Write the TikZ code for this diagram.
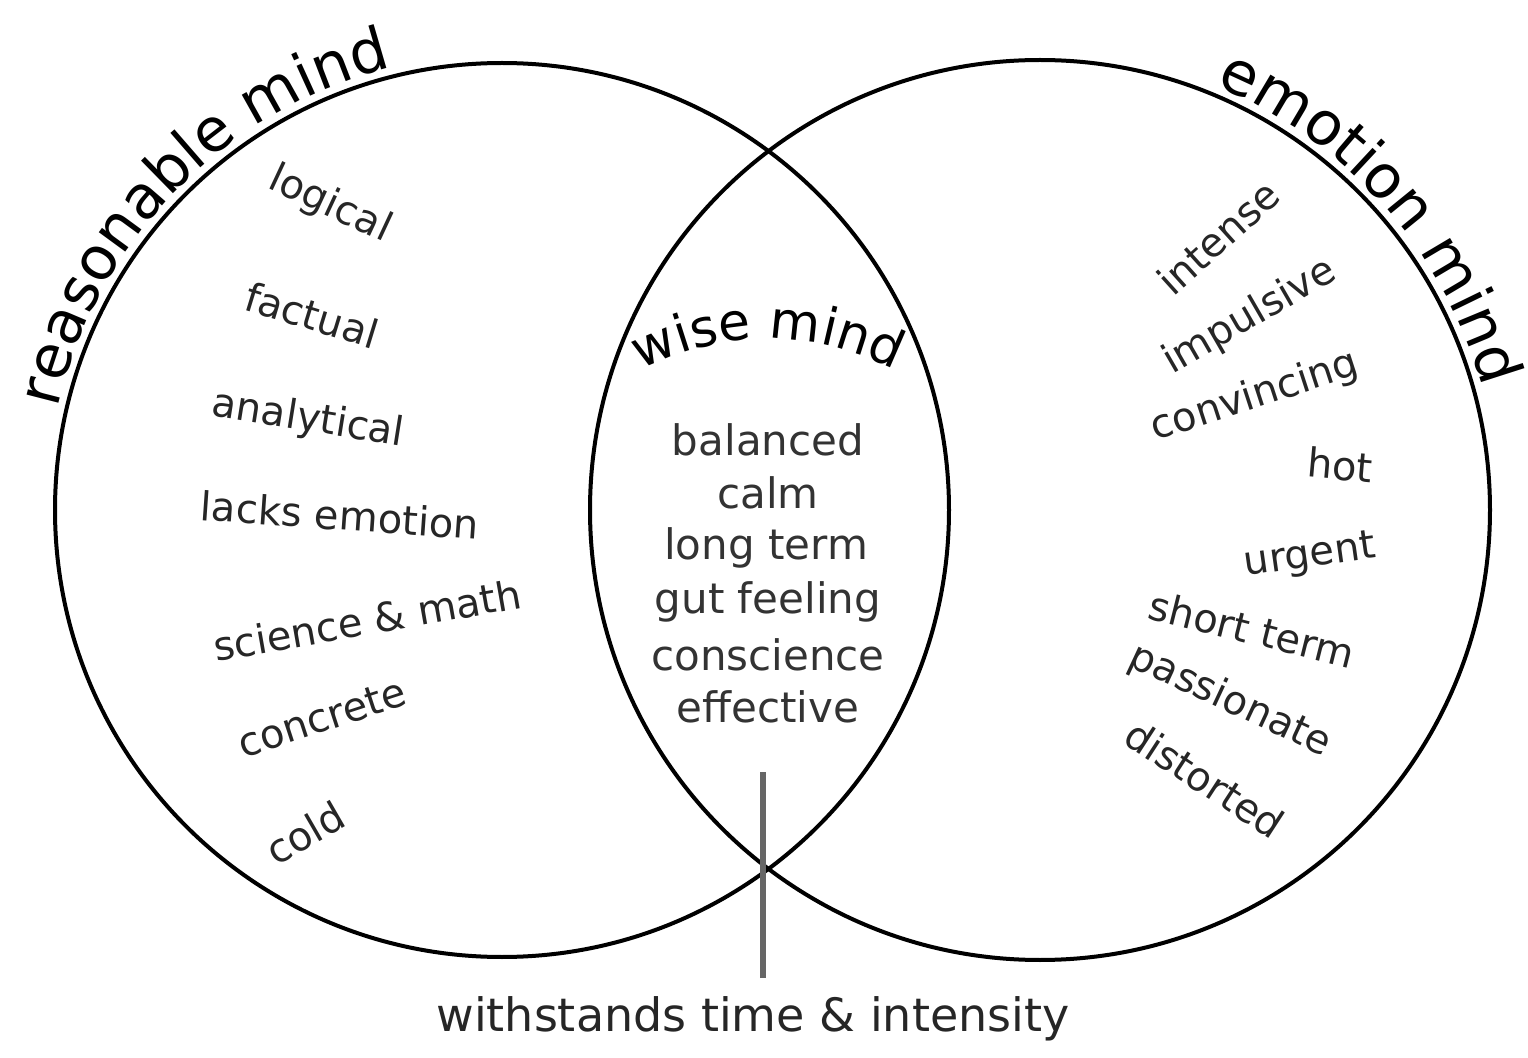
\documentclass[tikz,border=0pt]{standalone}
\usepackage{fontspec}
\setmainfont{DejaVu Sans}
\usetikzlibrary{positioning,calc,decorations.text}

\begin{document}
\begin{tikzpicture}[
    x=0.5pt, y=0.5pt,
    venn/.style={draw, circle, line width=2pt, inner sep=0pt},
    word/.style={font=\fontsize{20}{24}\selectfont, text=black!85, inner sep=1pt},
    wiseword/.style={font=\fontsize{21}{25}\selectfont, text=black!80, inner sep=1pt},
    arctitle/.style={decorate, decoration={text along path, text align=center,
        text={|\fontsize{30}{36}\selectfont|#1}}},
    wisetitle/.style={decorate, decoration={text along path, text align=center,
        text={|\fontsize{26}{30}\selectfont|#1}}},
    tickline/.style={line width=3pt, draw=black!60}
]
\useasboundingbox (0,0) rectangle (1528,1057);

\node[venn, minimum size=447pt] (reason) at (502,547) {};
\node[venn, minimum size=450pt] (emotion) at (1040,547) {};

\path[arctitle={reasonable mind}] ($(reason.center)+(172:456)$) arc[start angle=172, end angle=99, radius=456];
\path[arctitle={emotion mind}] ($(emotion.center)+(70:459)$) arc[start angle=70, end angle=13, radius=459];
\path[wisetitle={wise mind}] (628,680) to[bend left=28] (908,680);

\node[word, rotate=-25] (logical) at (330,852) {logical};
\node[word, rotate=-17] (factual) at (312,742) {factual};
\node[word, rotate=-9] (analytical) at (308,637) {analytical};
\node[word, rotate=-4] (lacksemo) at (340,542) {lacks emotion};
\node[word, rotate=10] (science) at (367,437) {science \& math};
\node[word, rotate=18] (concrete) at (322,339) {concrete};
\node[word, rotate=30] (cold) at (305,224) {cold};

\node[word, rotate=42] (intense) at (1218,820) {intense};
\node[word, rotate=30] (impulsive) at (1250,740) {impulsive};
\node[word, rotate=18] (convincing) at (1255,660) {convincing};
\node[word, rotate=-5] (hot) at (1340,592) {hot};
\node[word, rotate=8] (urgent) at (1310,500) {urgent};
\node[word, rotate=-14] (shortterm) at (1252,428) {short term};
\node[word, rotate=-25] (passionate) at (1230,356) {passionate};
\node[word, rotate=-33] (distorted) at (1205,278) {distorted};

\node[wiseword] (balanced) at (768,617) {balanced};
\node[wiseword] (calm) at (768,564) {calm};
\node[wiseword] (longterm) at (766,509) {long term};
\node[wiseword] (gutfeel) at (768,455) {gut feeling};
\node[wiseword] (conscience) at (768,402) {conscience};
\node[wiseword] (effective) at (768,350) {effective};

\coordinate (ticktop) at (763,285);
\coordinate (tickbot) at (763,79);
\node[word, font=\fontsize{23}{27}\selectfont, below=8pt of tickbot, xshift=-5pt] (note) {withstands time \& intensity};

\draw[tickline] (tickbot) -- (ticktop);
\end{tikzpicture}
\end{document}
